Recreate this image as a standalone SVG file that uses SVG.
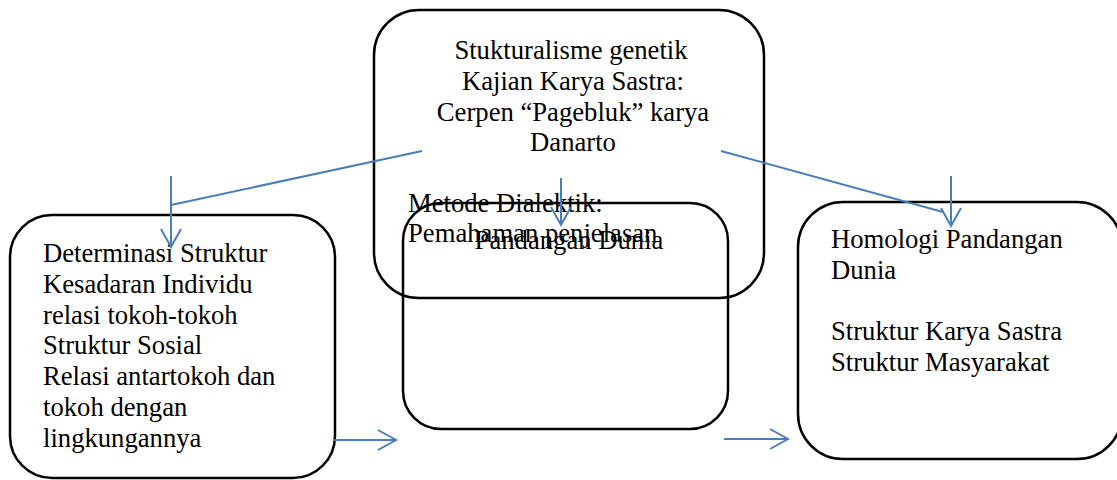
<svg xmlns="http://www.w3.org/2000/svg" width="1117" height="480" viewBox="0 0 1117 480">
<style>
.box{fill:none;stroke:#000;stroke-width:2.5}
.t{font-family:"Liberation Serif","Times New Roman",serif;font-size:26.67px;fill:#000}
.c{text-anchor:middle}
.conn{fill:none;stroke:#4A7EBB;stroke-width:2}
</style>
<defs>
<marker id="ah" markerUnits="userSpaceOnUse" markerWidth="24" markerHeight="26" refX="20" refY="12" orient="auto" viewBox="0 0 24 24">
<path d="M2,2 L20,12 L2,22" fill="none" stroke="#4A7EBB" stroke-width="2"/>
</marker>
</defs>
<rect width="1117" height="480" fill="#fff"/>
<g id="node-top">
<rect class="box" x="374" y="10" width="390" height="288" rx="45" ry="45"/>
<text class="t c" x="571" y="59">Stukturalisme genetik</text>
<text class="t c" x="573" y="90">Kajian Karya Sastra:</text>
<text class="t c" x="573" y="121">Cerpen “Pagebluk” karya</text>
<text class="t c" x="573" y="151">Danarto</text>
</g>
<g id="node-left">
<rect class="box" x="10" y="215" width="325" height="263" rx="42" ry="42"/>
<text class="t" x="43" y="262">Determinasi Struktur</text>
<text class="t" x="43" y="293">Kesadaran Individu</text>
<text class="t" x="43" y="324">relasi tokoh-tokoh</text>
<text class="t" x="43" y="354">Struktur Sosial</text>
<text class="t" x="43" y="385">Relasi antartokoh dan</text>
<text class="t" x="43" y="416">tokoh dengan</text>
<text class="t" x="43" y="447">lingkungannya</text>
</g>
<g id="node-middle">
<rect class="box" x="403" y="203" width="325" height="226" rx="38" ry="38"/>
<text class="t" x="408" y="212">Metode Dialektik:</text>
<text class="t" x="408" y="242">Pemahaman penjelasan</text>
<text class="t c" x="569" y="249">Pandangan Dunia</text>
</g>
<g id="node-right">
<rect class="box" x="798" y="202" width="324" height="257" rx="45" ry="45"/>
<text class="t" x="831" y="248">Homologi Pandangan</text>
<text class="t" x="831" y="279">Dunia</text>
<text class="t" x="831" y="340">Struktur Karya Sastra</text>
<text class="t" x="831" y="371">Struktur Masyarakat</text>
</g>
<g id="connectors">
<line class="conn" x1="422" y1="151" x2="171" y2="205"/>
<line class="conn" x1="171" y1="176" x2="171" y2="247" marker-end="url(#ah)"/>
<line class="conn" x1="561" y1="178" x2="561" y2="225" marker-end="url(#ah)"/>
<line class="conn" x1="721" y1="151" x2="943" y2="212"/>
<line class="conn" x1="951" y1="176" x2="951" y2="226" marker-end="url(#ah)"/>
<line class="conn" x1="333" y1="440" x2="396" y2="440" marker-end="url(#ah)"/>
<line class="conn" x1="724" y1="439" x2="788" y2="439" marker-end="url(#ah)"/>
</g>
</svg>
